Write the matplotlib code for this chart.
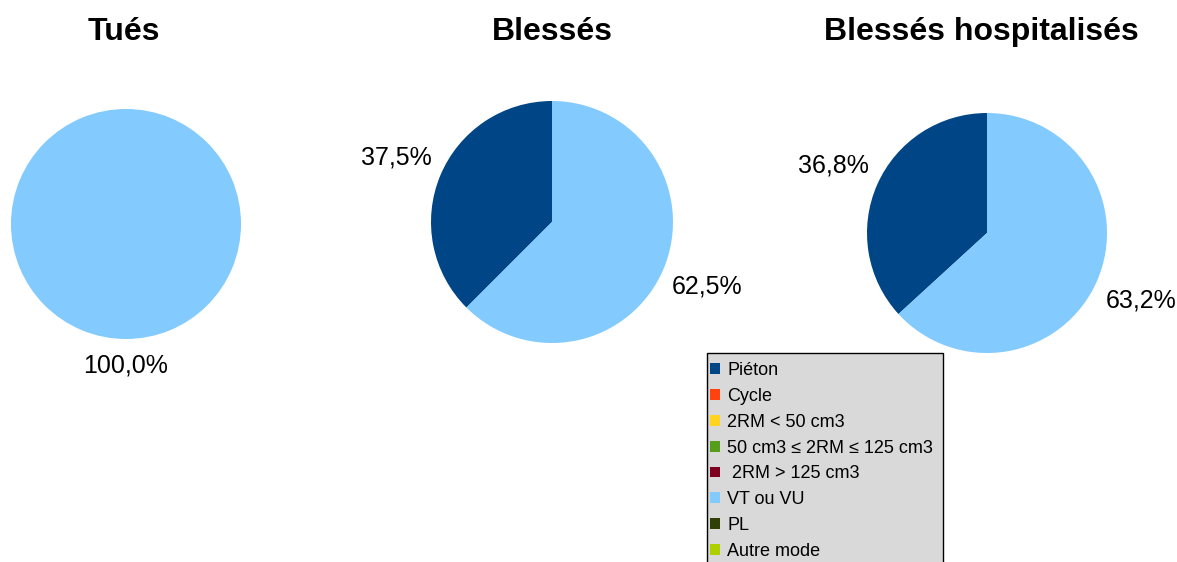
import matplotlib.pyplot as plt
from matplotlib.patches import Patch, Rectangle

plt.rcParams['font.family'] = ['Liberation Sans', 'DejaVu Sans']

# Modes de déplacement et couleurs associées
modes = ["Piéton", "Cycle", "2RM < 50 cm3", "50 cm3 ≤ 2RM ≤ 125 cm3",
         " 2RM > 125 cm3", "VT ou VU", "PL", "Autre mode"]
colors = ["#004586", "#ff420e", "#ffd320", "#579d1c",
          "#7e0021", "#83caff", "#314004", "#aecf00"]

# Répartition (%) par gravité
tues = [0, 0, 0, 0, 0, 100.0, 0, 0]
blesses = [37.5, 0, 0, 0, 0, 62.5, 0, 0]
blesses_hosp = [36.8, 0, 0, 0, 0, 63.2, 0, 0]

titles = ["Tués", "Blessés", "Blessés hospitalisés"]
series = [tues, blesses, blesses_hosp]

W, H = 1177, 562
fig = plt.figure(figsize=(W / 100, H / 100), dpi=100)

# centre x, centre y, rayon (px), distance des étiquettes, x du titre
layout = [(126, 224, 115, 1.23, 124),
          (552, 222, 121, 1.39, 552),
          (987, 233, 120, 1.40, 981)]


def fmt(p):
    return f"{p:.1f}%".replace(".", ",")


for title, vals, (cx, cy, r, dist, tx) in zip(titles, series, layout):
    ax = fig.add_axes([(cx - r) / W, 1 - (cy + r) / H, 2 * r / W, 2 * r / H])
    keep = [i for i, v in enumerate(vals) if v > 0]
    ax.pie([vals[i] for i in keep], colors=[colors[i] for i in keep],
           startangle=90, counterclock=True, autopct=fmt, pctdistance=dist,
           wedgeprops=dict(linewidth=0), textprops=dict(fontsize=18))
    ax.set_xlim(-1, 1)
    ax.set_ylim(-1, 1)
    ax.set_aspect("equal")
    fig.text(tx / W, 1 - 32 / H, title, ha="center", va="center",
             fontsize=23, fontweight="bold")

# cadre gris de la légende (il déborde en bas de la figure)
fig.patches.append(Rectangle((707 / W, -0.05), 236 / W, 1 - 353 / H + 0.05,
                             transform=fig.transFigure, facecolor="#d9d9d9",
                             edgecolor="black", linewidth=1, zorder=0))

handles = [Patch(facecolor=c, edgecolor="none") for c in colors]
fig.legend(handles, modes, loc="upper left",
           bbox_to_anchor=(710 / W, 1 - 362 / H),
           fontsize=13, frameon=False,
           handlelength=0.55, handleheight=0.55, handletextpad=0.4,
           labelspacing=0.49, borderpad=0, borderaxespad=0)

fig.savefig("out.png", dpi=100)
